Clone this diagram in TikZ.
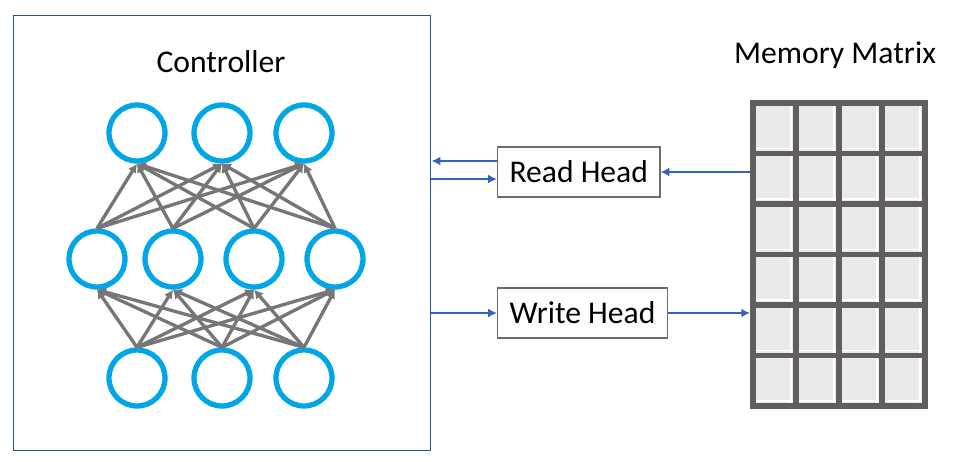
\documentclass[tikz,border=0pt]{standalone}
\usepackage{fontspec}
\setmainfont{Carlito}
\usepackage{xcolor}
\usepackage{tikz}
\usetikzlibrary{shapes,arrows.meta,calc}
\definecolor{cNeuron}{RGB}{0,166,230}
\definecolor{cEdge}{RGB}{118,118,118}
\definecolor{cLink}{RGB}{52,98,184}
\definecolor{cFrame}{RGB}{47,82,143}
\definecolor{cGrid}{RGB}{98,94,94}
\definecolor{cCell}{RGB}{234,234,234}
\tikzstyle{tsTitle} = [ 
    text=black, 
    font=\fontsize{18}{20}\selectfont
]
\tikzstyle{tsNeuron} = [ 
    circle,
    draw=cNeuron,
    line width=3pt,
    minimum size=1.12cm,
    inner sep=0pt]
\tikzstyle{tsEdge} = [ 
    draw=cEdge,
    line width=1.9pt,
    -{Latex[length=5pt,width=5.5pt]}]
\tikzstyle{tsLink} = [ 
    draw=cLink,
    line width=1.4pt,
    -{Latex[length=5pt,width=5pt]}]
\tikzstyle{tsHead} = [ 
    rectangle,
    tsTitle,
    draw=gray!85!black,
    line width=0.6pt,
    minimum height=1cm,
    inner xsep=0.24cm,
    anchor=west]
\begin{document}
\begin{tikzpicture}[x=0.02cm, y=-0.02cm]
        \useasboundingbox (0,0) rectangle (961,462);
        
        % controller
        \node[  rectangle,
                draw=cFrame,
                line width=0.6pt,
                minimum width=8.36cm,
                minimum height=8.72cm] (controller) at (222,233) { };
        \node[tsTitle] (ctrltitle) at (221,62) {Controller};
        
        \node[tsNeuron] (t1) at (137,133) {};
        \node[tsNeuron] (t2) at (222,133) {};
        \node[tsNeuron] (t3) at (304,133) {};
        
        \node[tsNeuron] (m1) at (97,259) {};
        \node[tsNeuron] (m2) at (173,259) {};
        \node[tsNeuron] (m3) at (254,259) {};
        \node[tsNeuron] (m4) at (335,259) {};
        
        \node[tsNeuron] (b1) at (137,378) {};
        \node[tsNeuron] (b2) at (222,378) {};
        \node[tsNeuron] (b3) at (304,378) {};
        
        \draw[tsEdge] (m1.north) -- (t1.south);
        \draw[tsEdge] (m1.north) -- (t2.south);
        \draw[tsEdge] (m1.north) -- (t3.south);
        \draw[tsEdge] (m2.north) -- (t1.south);
        \draw[tsEdge] (m2.north) -- (t2.south);
        \draw[tsEdge] (m2.north) -- (t3.south);
        \draw[tsEdge] (m3.north) -- (t1.south);
        \draw[tsEdge] (m3.north) -- (t2.south);
        \draw[tsEdge] (m3.north) -- (t3.south);
        \draw[tsEdge] (m4.north) -- (t1.south);
        \draw[tsEdge] (m4.north) -- (t2.south);
        \draw[tsEdge] (m4.north) -- (t3.south);
        
        \draw[tsEdge] (b1.north) -- (m1.south);
        \draw[tsEdge] (b1.north) -- (m2.south);
        \draw[tsEdge] (b1.north) -- (m3.south);
        \draw[tsEdge] (b1.north) -- (m4.south);
        \draw[tsEdge] (b2.north) -- (m1.south);
        \draw[tsEdge] (b2.north) -- (m2.south);
        \draw[tsEdge] (b2.north) -- (m3.south);
        \draw[tsEdge] (b2.north) -- (m4.south);
        \draw[tsEdge] (b3.north) -- (m1.south);
        \draw[tsEdge] (b3.north) -- (m2.south);
        \draw[tsEdge] (b3.north) -- (m3.south);
        \draw[tsEdge] (b3.north) -- (m4.south);
        
        % heads
        \node[tsHead] (read) at (497,172) {Read Head};
        \node[tsHead] (write) at (497,313) {Write Head};
        
        % memory matrix
        \node[tsTitle] (memtitle) at (835,55) {Memory Matrix};
        \node[  rectangle,
                fill=cCell,
                draw=cGrid,
                line width=3.4pt,
                minimum width=3.44cm,
                minimum height=6.06cm] (memory) at (839,254.5) { };
        
        \draw[white, line width=0.9pt] (791,106) -- (791,403);
        \draw[white, line width=0.9pt] (834,106) -- (834,403);
        \draw[white, line width=0.9pt] (877,106) -- (877,403);
        \draw[white, line width=0.9pt] (920,106) -- (920,403);
        \draw[white, line width=0.9pt] (756,148.5) -- (922,148.5);
        \draw[white, line width=0.9pt] (756,199) -- (922,199);
        \draw[white, line width=0.9pt] (756,249.5) -- (922,249.5);
        \draw[white, line width=0.9pt] (756,300) -- (922,300);
        \draw[white, line width=0.9pt] (756,350.5) -- (922,350.5);
        \draw[white, line width=0.9pt] (756,401) -- (922,401);
        
        \draw[cGrid, line width=3.4pt] (796,103) -- (796,406);
        \draw[cGrid, line width=3.4pt] (839,103) -- (839,406);
        \draw[cGrid, line width=3.4pt] (882,103) -- (882,406);
        \draw[cGrid, line width=3.4pt] (753,153.5) -- (925,153.5);
        \draw[cGrid, line width=3.4pt] (753,204) -- (925,204);
        \draw[cGrid, line width=3.4pt] (753,254.5) -- (925,254.5);
        \draw[cGrid, line width=3.4pt] (753,305) -- (925,305);
        \draw[cGrid, line width=3.4pt] (753,355.5) -- (925,355.5);
        
        % links
        \draw[tsLink] ($(read.west)+(0,-11)$) -- ($(controller.east |- read.west)+(0,-11)$);
        \draw[tsLink] ($(controller.east |- read.west)+(0,7)$) -- ($(read.west)+(0,7)$);
        \draw[tsLink] (memory.west |- read.east) -- (read.east);
        \draw[tsLink] (controller.east |- write.west) -- (write.west);
        \draw[tsLink] (write.east) -- (memory.west |- write.east);
       
\end{tikzpicture}
\end{document}
